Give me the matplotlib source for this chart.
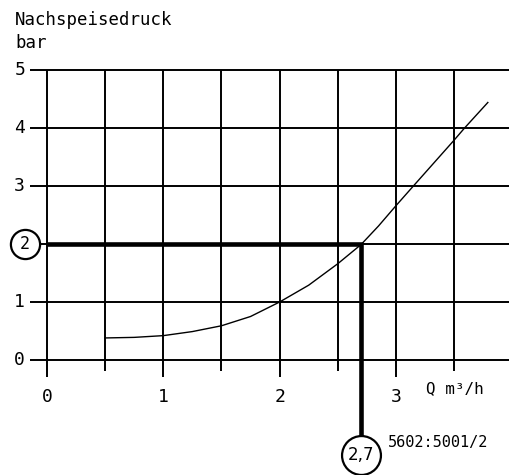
import matplotlib
matplotlib.use("Agg")
import matplotlib.pyplot as plt

# curve: Nachspeisedruck (bar) over Q (m3/h)
q_vals = [0.5, 0.75, 1.0, 1.25, 1.5, 1.75, 2.0, 2.25, 2.5, 2.7, 2.85, 3.0, 3.15, 3.5, 3.59, 3.79]
p_vals = [0.38, 0.39, 0.42, 0.49, 0.59, 0.75, 1.0, 1.29, 1.66, 1.99, 2.31, 2.66, 3.0, 3.79, 4.0, 4.44]

x_ticks = [0, 1, 2, 3]
y_ticks = [0, 1, 2, 3, 4, 5]
x_grid = [0, 0.5, 1, 1.5, 2, 2.5, 3, 3.5]

# read-off point
q_op = 2.7
p_op = 2

font = "DejaVu Sans Mono"

fig = plt.figure(figsize=(5.09, 4.75), dpi=100)
ax = fig.add_axes([0, 0, 1, 1])
ax.set_xlim(-0.404, 3.972)
ax.set_ylim(-1.983, 6.207)
ax.axis("off")

lw = 1.4
# horizontal grid lines with stubs on the left
for y in y_ticks:
    ax.plot([-0.146, 3.972], [y, y], color="black", lw=lw, solid_capstyle="butt")
    if y != p_op:  # the read-off value gets a circle instead
        ax.text(-0.235, y, str(y), ha="center", va="center", fontsize=13, family=font)

# vertical grid lines, integer ones longer below 0
for x in x_grid:
    bottom = -0.29 if x == int(x) else -0.19
    ax.plot([x, x], [5, bottom], color="black", lw=lw, solid_capstyle="butt")

for x in x_ticks:
    ax.text(x, -0.64, str(x), ha="center", va="center", fontsize=13, family=font)

ax.text(3.26, -0.5, "Q m³/h", ha="left", va="center", fontsize=11.5, family=font)

# curve
ax.plot(q_vals, p_vals, color="black", lw=1.0)

# thick read-off line
ax.plot([0, q_op, q_op], [p_op, p_op, -1.64], color="black", lw=3.3,
        solid_joinstyle="miter", solid_capstyle="butt", zorder=3)

# circles
ax.plot([-0.193], [p_op], marker="o", ms=21, mfc="white", mec="black", mew=1.6, zorder=4)
ax.text(-0.193, p_op, str(p_op), ha="center", va="center", fontsize=12, family=font, zorder=5)
ax.plot([q_op], [-1.64], marker="o", ms=28, mfc="white", mec="black", mew=1.6, zorder=4)
ax.text(q_op, -1.64, "2,7", ha="center", va="center", fontsize=12, zorder=5)

# labels
ax.text(-0.275, 5.78, "Nachspeisedruck", ha="left", va="baseline", fontsize=12.5, family=font)
ax.text(-0.275, 5.38, "bar", ha="left", va="baseline", fontsize=12.5, family=font)
ax.text(2.93, -1.42, "5602:5001/2", ha="left", va="center", fontsize=11, family=font)

fig.savefig("out.png", dpi=100)
